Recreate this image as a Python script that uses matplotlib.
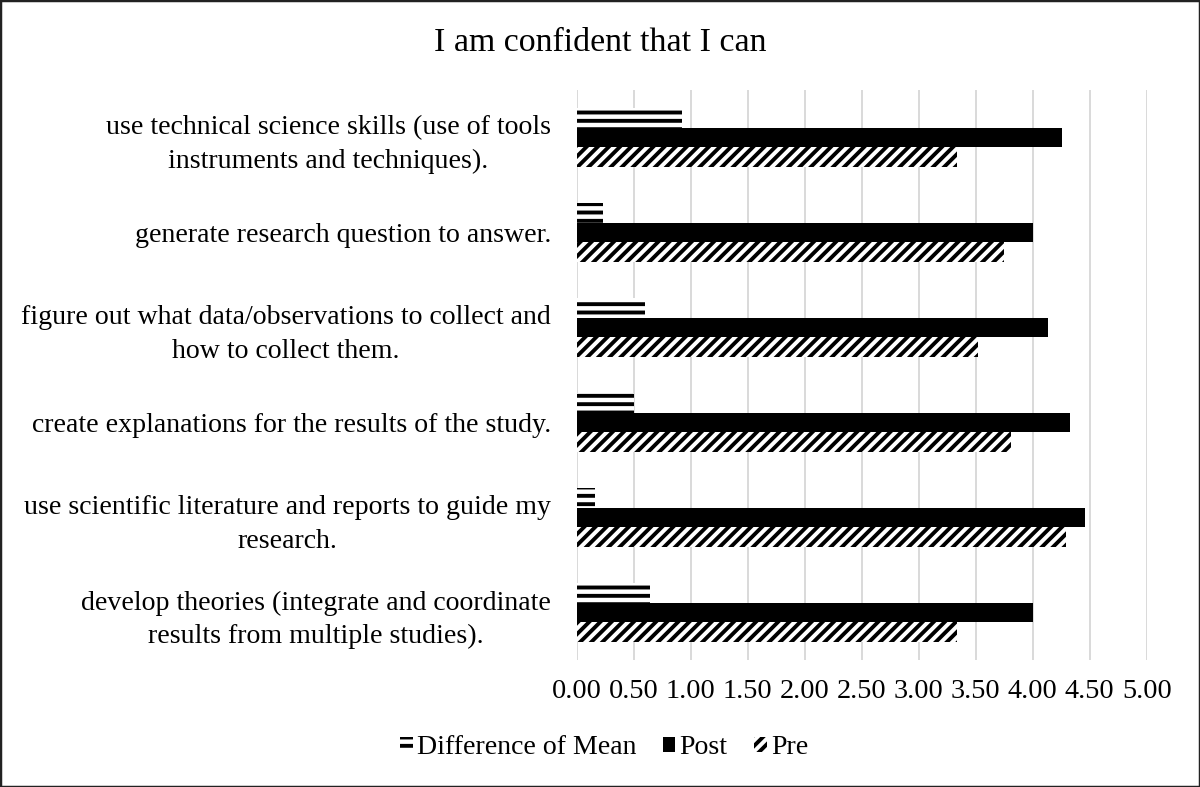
import matplotlib
matplotlib.use("Agg")
import matplotlib.pyplot as plt
from matplotlib.patches import Rectangle
import numpy as np

categories = [
    "use technical science skills (use of tools\ninstruments and techniques).",
    "generate research question to answer.",
    "figure out what data/observations to collect and\nhow to collect them.",
    "create explanations for the results of the study.",
    "use scientific literature and reports to guide my\nresearch.",
    "develop theories (integrate and coordinate\nresults from multiple studies).",
]
diff_mean = [0.92, 0.23, 0.60, 0.50, 0.16, 0.64]
post = [4.26, 4.00, 4.13, 4.33, 4.46, 4.00]
pre = [3.34, 3.75, 3.52, 3.81, 4.29, 3.34]
xticks = [0.0, 0.5, 1.0, 1.5, 2.0, 2.5, 3.0, 3.5, 4.0, 4.5, 5.0]

plt.rcParams['font.family'] = ['Liberation Serif', 'DejaVu Serif']
plt.rcParams['hatch.linewidth'] = 2.8

W, H = 1200, 787
fig = plt.figure(figsize=(W/100, H/100), dpi=100)
ax = fig.add_axes([576.7/W, 1-660/H, (1146.7-576.7)/W, (660-90)/H])

y = np.arange(len(categories))
h = 0.205
ax.barh(y - h, diff_mean, height=h, facecolor='white', edgecolor='black',
        linewidth=0, hatch='--', label='Difference of Mean')
ax.barh(y, post, height=h, color='black', linewidth=0, label='Post')
ax.barh(y + h, pre, height=h, facecolor='white', edgecolor='black',
        linewidth=0, hatch='///', label='Pre')

ax.set_xlim(0, 5)
ax.set_ylim(len(categories) - 0.5, -0.5)
ax.set_xticks(xticks)
ax.set_xticklabels([f"{v:.2f}" for v in xticks], fontsize=20.3)
ax.set_yticks(y)
ax.set_yticklabels(categories, fontsize=20.1, linespacing=1.45)
for lab in ax.get_yticklabels():
    lab.set_multialignment('center')
ax.tick_params(axis='both', length=0)
ax.tick_params(axis='y', pad=18.5)
ax.tick_params(axis='x', pad=14)
for s in ax.spines.values():
    s.set_visible(False)
ax.grid(axis='x', color='#d9d9d9', linewidth=1.4)
ax.set_axisbelow(True)

fig.text(0.5, 1-43/H, "I am confident that I can", ha='center', va='center', fontsize=24.4)

handles, labels = ax.get_legend_handles_labels()
fig.legend(handles, labels, loc='center', bbox_to_anchor=(604/W, 1-748/H), ncol=3,
           frameon=False, fontsize=20.1, handlelength=0.45, handleheight=0.45,
           handletextpad=0.15, columnspacing=0.95)

fig.patches.append(Rectangle((0, 0), 1, 1, transform=fig.transFigure, fill=False,
                             edgecolor='#222222', linewidth=2.5))

fig.savefig("out.png", dpi=100)
